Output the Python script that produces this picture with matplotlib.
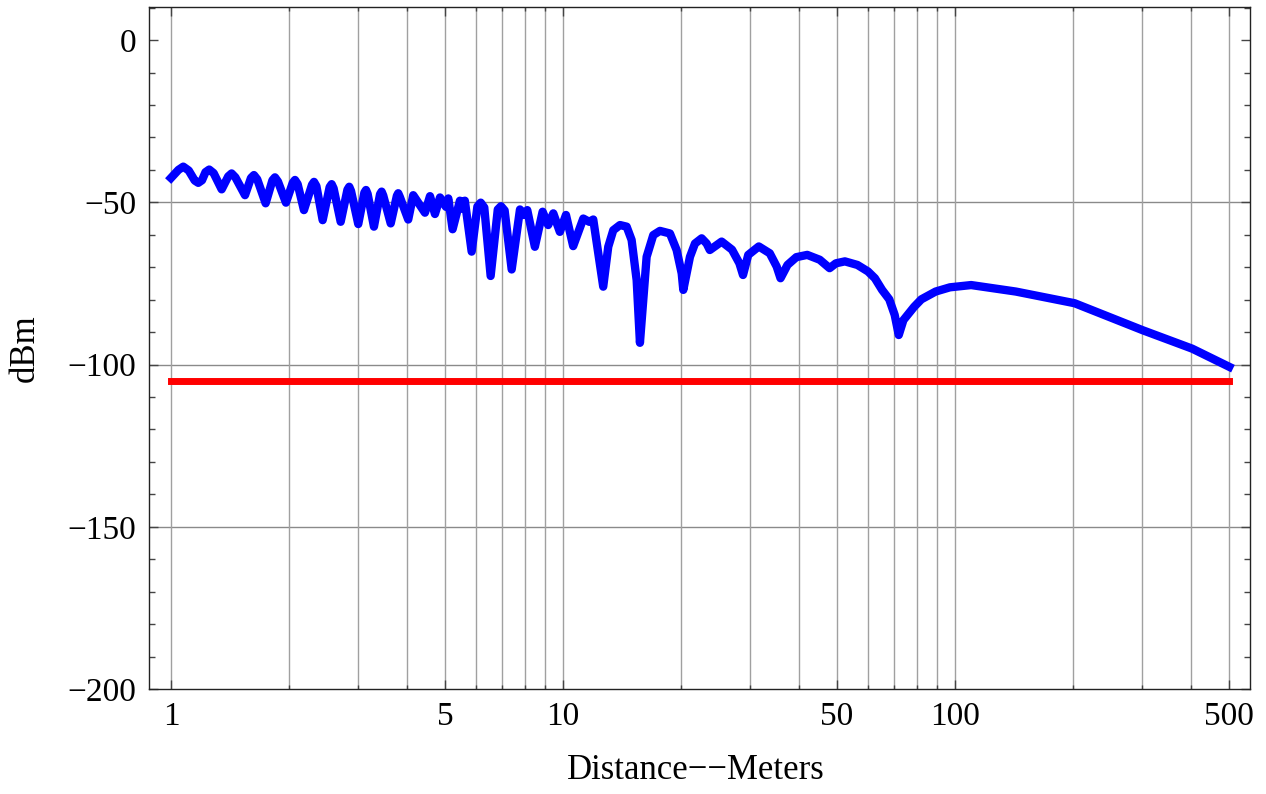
import matplotlib
matplotlib.use("Agg")
import matplotlib.pyplot as plt
from matplotlib.ticker import NullFormatter

# received power vs distance
dist = [1.00, 1.045, 1.075, 1.11, 1.15, 1.174, 1.20, 1.225, 1.252, 1.285,
        1.347, 1.40, 1.428, 1.46, 1.545, 1.60, 1.628, 1.66, 1.744, 1.815,
        1.842, 1.875, 1.965, 2.045, 2.072, 2.105, 2.184, 2.29, 2.317, 2.35,
        2.438, 2.54, 2.570, 2.60, 2.71, 2.82, 2.85, 2.88, 3.005, 3.115,
        3.145, 3.175, 3.295, 3.415, 3.447, 3.48, 3.636, 3.77, 3.80, 3.835,
        4.03, 4.15, 4.446, 4.58, 4.715, 4.857,
        5.03, 5.10, 5.23, 5.46, 5.55, 5.62, 5.85, 6.05, 6.17, 6.30, 6.54,
        6.82, 6.95, 7.10,
        7.40, 7.77, 7.95, 8.11, 8.48, 8.875, 9.17, 9.45, 9.82, 10.18,
        10.62, 11.27, 11.67, 11.95, 12.67, 13.05, 13.44, 13.98, 14.54, 14.97,
        15.42, 15.72, 16.35, 17.0, 17.68, 18.75, 19.5, 20.09, 20.28, 21.09,
        21.72, 22.59, 23.26, 23.7, 25.4, 27.0, 28.2, 28.8, 29.7, 31.6,
        33.7, 35.1, 35.9, 37.4, 39.4, 42.0, 45.2, 47.9, 49.7, 52.4,
        56.4, 60.0, 62.5, 65.2, 68.0, 70.2, 71.9, 73.9, 78.7, 82.1,
        89.3, 97.1, 110, 143, 202, 301, 403, 501]
power = [-42.5, -40.0, -39.0, -40.2, -43.3, -44.0, -43.2, -40.7, -39.9, -41.0,
         -46.0, -42.0, -41.1, -42.3, -47.8, -42.5, -41.6, -42.9, -50.3, -43.2,
         -42.3, -43.6, -50.1, -44.0, -43.1, -44.4, -52.4, -44.6, -43.7, -45.0,
         -55.5, -45.3, -44.4, -45.7, -56.0, -46.1, -45.2, -46.5, -56.7, -47.0,
         -46.2, -47.4, -57.5, -47.5, -46.7, -47.9, -56.5, -48.0, -47.2, -48.3,
         -55.3, -47.8, -53.2, -48.1, -53.6, -48.5,
         -51.4, -48.8, -58.3, -49.5, -52.0, -49.5, -65.2, -51.3, -50.1, -51.6, -72.7,
         -52.2, -51.2, -52.5,
         -70.7, -52.2, -53.9, -52.4, -63.7, -52.9, -57.0, -53.4, -59.1, -53.9,
         -63.5, -55.0, -56.0, -55.3, -76.0, -63.7, -58.6, -57.0, -57.5, -61.6,
         -74.0, -93.3, -66.8, -60.1, -58.8, -59.6, -64.7, -71.9, -77.0, -66.8,
         -62.7, -61.1, -62.7, -64.7, -62.1, -64.6, -68.8, -72.4, -66.2, -63.6,
         -65.7, -69.8, -73.4, -69.3, -66.9, -66.2, -67.7, -70.3, -68.8, -68.2,
         -69.3, -71.3, -73.4, -77.0, -79.9, -84.7, -90.9, -86.3, -82.2, -79.9,
         -77.5, -76.2, -75.5, -77.5, -81.1, -89.4, -95.1, -100.7]

# receiver sensitivity threshold
thresh_dist = [1, 500]
thresh_power = [-105, -105]

x_major = [1, 5, 10, 50, 100, 500]
x_minor = [2, 3, 4, 6, 7, 8, 9, 20, 30, 40, 60, 70, 80, 90, 200, 300, 400]
y_grid = [-150, -100, -50]

plt.rcParams['font.family'] = ['Liberation Serif', 'DejaVu Serif']

fig = plt.figure(figsize=(12.66, 7.94), dpi=100)
ax = fig.add_axes([149 / 1266, 1 - 689 / 794, (1250 - 149) / 1266, (689 - 7) / 794])

ax.plot(dist, power, color='#0000ff', lw=6.0, zorder=3)
ax.plot(thresh_dist, thresh_power, color='#ff0000', lw=5.0,
        solid_capstyle='projecting', zorder=3)

ax.set_xscale('log')
ax.set_xlim(0.879, 566)
ax.set_ylim(-200, 10.2)

ax.set_xticks(x_major)
ax.set_xticklabels([str(v) for v in x_major])
ax.set_xticks(x_minor, minor=True)
ax.xaxis.set_minor_formatter(NullFormatter())
ax.set_yticks(range(-200, 1, 50))
ax.set_yticks(range(-200, 11, 10), minor=True)

ax.grid(True, axis='x', which='both', color='#a0a0a0', lw=1.0, zorder=0)
for g in y_grid:
    ax.axhline(g, color='#8a8a8a', lw=1.0, zorder=0)

ax.tick_params(which='both', direction='in', top=True, right=True,
               color='#444444', labelsize=24, pad=9)
ax.tick_params(axis='x', which='major', length=6.5, width=1)
ax.tick_params(axis='x', which='minor', length=3, width=1)
ax.tick_params(axis='y', which='major', length=6.5, width=1)
ax.tick_params(axis='y', which='minor', length=4.3, width=1)
for s in ax.spines.values():
    s.set_color('#222222')
    s.set_linewidth(1.0)

ax.set_xlabel('Distance\u2212\u2212Meters', fontsize=25)
ax.set_ylabel('dBm', fontsize=25)
ax.xaxis.set_label_coords(0.497, -0.095)
ax.yaxis.set_label_coords(-0.097, 0.5)

plt.savefig('out.png', dpi=100)
